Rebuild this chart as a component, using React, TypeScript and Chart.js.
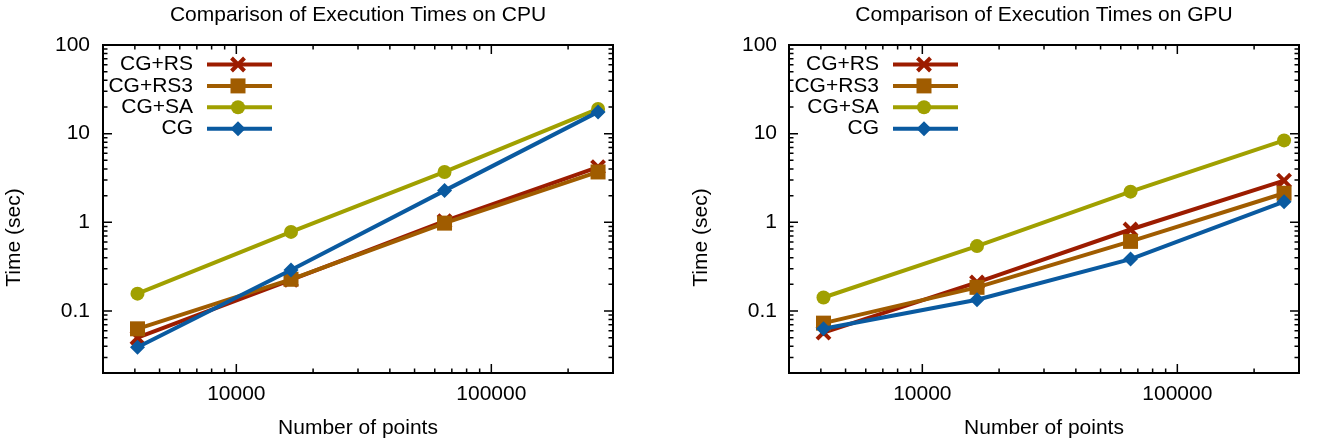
import React, { useEffect, useRef } from 'react';
import { Chart, registerables } from 'chart.js';

Chart.register(...registerables);

// ---- data ----
const xValues = [4096, 16384, 65536, 262144];
const seriesLabels = ['CG+RS', 'CG+RS3', 'CG+SA', 'CG'];

const cpuRS = [0.05, 0.225, 1.03, 4.2];
const cpuRS3 = [0.063, 0.228, 0.98, 3.7];
const cpuSA = [0.157, 0.78, 3.7, 19.0];
const cpuCG = [0.039, 0.29, 2.28, 17.6];

const gpuRS = [0.057, 0.21, 0.83, 2.95];
const gpuRS3 = [0.073, 0.185, 0.61, 2.13];
const gpuSA = [0.142, 0.54, 2.22, 8.4];
const gpuCG = [0.063, 0.134, 0.385, 1.71];

const xTickLabels = [10000, 100000];
const yTickLabels = [0.1, 1, 10, 100];
const xMinorTicks = [4000, 5000, 6000, 7000, 8000, 9000, 20000, 30000, 40000, 50000, 60000, 70000, 80000, 90000, 200000];
const yMinorTicks = [0.03, 0.04, 0.05, 0.06, 0.07, 0.08, 0.09, 0.2, 0.3, 0.4, 0.5, 0.6, 0.7, 0.8, 0.9, 2, 3, 4, 5, 6, 7, 8, 9, 20, 30, 40, 50, 60, 70, 80, 90];

const xMin = 3000;
const xMax = 300000;
const yMin = 0.02;
const yMax = 100;

// ---- styles ----
const FONT = "'Liberation Sans', Arial, Helvetica, sans-serif";
const FONT_SIZE = 21;
const colors = ['#9c1c00', '#a05c00', '#a0a000', '#0a5aa0'];
const pointStyles = ['crossRot', 'rect', 'circle', 'rectRot'];
const pointRadii = [9.2, 10.6, 7, 7.5];

type PanelCfg = {
  title: string;
  series: number[][];
  left: number;
  width: number;
  plotLeft: number;
  padRight: number;
  yTickPad: number;
  yTitleX: number;
};

function drawMarker(ctx: CanvasRenderingContext2D, style: string, x: number, y: number, color: string) {
  ctx.save();
  ctx.fillStyle = color;
  ctx.strokeStyle = color;
  ctx.beginPath();
  if (style === 'crossRot') {
    const d = 6.5;
    ctx.lineWidth = 4;
    ctx.moveTo(x - d, y - d);
    ctx.lineTo(x + d, y + d);
    ctx.moveTo(x + d, y - d);
    ctx.lineTo(x - d, y + d);
    ctx.stroke();
  } else if (style === 'rect') {
    ctx.rect(x - 7.5, y - 7.5, 15, 15);
    ctx.fill();
  } else if (style === 'circle') {
    ctx.arc(x, y, 7, 0, Math.PI * 2);
    ctx.fill();
  } else {
    const r = 7.5;
    ctx.moveTo(x, y - r);
    ctx.lineTo(x + r, y);
    ctx.lineTo(x, y + r);
    ctx.lineTo(x - r, y);
    ctx.closePath();
    ctx.fill();
  }
  ctx.restore();
}

function makeDecor(cfg: PanelCfg) {
  return {
    id: 'gnuplotDecor',
    afterDatasetsDraw(chart: any) {
      const ctx: CanvasRenderingContext2D = chart.ctx;
      const { left, right, top, bottom } = chart.chartArea;
      const xs = chart.scales.x;
      const ys = chart.scales.y;
      ctx.save();
      // tick marks (inside, mirrored)
      ctx.strokeStyle = '#000';
      ctx.lineWidth = 1.5;
      ctx.beginPath();
      const xt = (v: number, len: number) => {
        const p = xs.getPixelForValue(v);
        ctx.moveTo(p, bottom);
        ctx.lineTo(p, bottom - len);
        ctx.moveTo(p, top);
        ctx.lineTo(p, top + len);
      };
      const yt = (v: number, len: number) => {
        const p = ys.getPixelForValue(v);
        ctx.moveTo(left, p);
        ctx.lineTo(left + len, p);
        ctx.moveTo(right, p);
        ctx.lineTo(right - len, p);
      };
      xTickLabels.forEach((v) => xt(v, 9));
      xMinorTicks.forEach((v) => xt(v, 4.5));
      yTickLabels.forEach((v) => yt(v, 9));
      yMinorTicks.forEach((v) => yt(v, 4.5));
      ctx.stroke();
      // border
      ctx.lineWidth = 2;
      ctx.strokeRect(left, top, right - left, bottom - top);

      // titles
      ctx.fillStyle = '#000';
      ctx.font = `${FONT_SIZE}px ${FONT}`;
      ctx.textAlign = 'center';
      ctx.textBaseline = 'middle';
      const cx = (left + right) / 2;
      ctx.fillText(cfg.title, cx, 15);
      ctx.fillText('Number of points', cx, 428);
      ctx.save();
      ctx.translate(cfg.yTitleX, 237.5);
      ctx.rotate(-Math.PI / 2);
      ctx.fillText('Time (sec)', 0, 0);
      ctx.restore();

      // legend
      chart.data.datasets.forEach((ds: any, i: number) => {
        const y = 64.5 + i * 21.4;
        ctx.fillStyle = '#000';
        ctx.textAlign = 'right';
        ctx.fillText(ds.label, left + 90, y);
        ctx.strokeStyle = ds.borderColor;
        ctx.lineWidth = 4;
        ctx.beginPath();
        ctx.moveTo(left + 104, y);
        ctx.lineTo(left + 169, y);
        ctx.stroke();
        drawMarker(ctx, pointStyles[i], left + 135, y, ds.borderColor);
      });
      ctx.restore();
    },
  };
}

function Panel({ cfg }: { cfg: PanelCfg }) {
  const ref = useRef<HTMLCanvasElement>(null);
  useEffect(() => {
    const canvas = ref.current;
    if (!canvas) return;
    const datasets = cfg.series.map((vals, i) => ({
      label: seriesLabels[i],
      data: xValues.map((x, j) => ({ x, y: vals[j] })),
      borderColor: colors[i],
      backgroundColor: colors[i],
      borderWidth: 4,
      pointStyle: pointStyles[i],
      pointRadius: pointRadii[i],
      pointBorderWidth: pointStyles[i] === 'crossRot' ? 4 : 0,
      pointBackgroundColor: colors[i],
      pointBorderColor: colors[i],
      tension: 0,
      order: 3 - i,
    }));
    const chart = new Chart(canvas, {
      type: 'line',
      data: { datasets },
      plugins: [makeDecor(cfg)],
      options: {
        responsive: false,
        animation: false,
        devicePixelRatio: 1,
        layout: { padding: { left: 0, top: 45, right: cfg.padRight, bottom: 0 } },
        plugins: { legend: { display: false }, tooltip: { enabled: false }, title: { display: false } },
        scales: {
          x: {
            type: 'logarithmic',
            min: xMin,
            max: xMax,
            grid: { display: false, drawTicks: false },
            border: { display: false },
            afterBuildTicks: (scale: any) => {
              scale.ticks = xTickLabels.map((v) => ({ value: v }));
            },
            afterFit: (scale: any) => {
              scale.height = 444 - 373;
            },
            ticks: {
              autoSkip: false,
              maxRotation: 0,
              padding: 9,
              color: '#000',
              font: { family: FONT, size: FONT_SIZE },
              callback: (v: any) => String(v),
            },
          },
          y: {
            type: 'logarithmic',
            min: yMin,
            max: yMax,
            grid: { display: false, drawTicks: false },
            border: { display: false },
            afterBuildTicks: (scale: any) => {
              scale.ticks = yTickLabels.map((v) => ({ value: v }));
            },
            afterFit: (scale: any) => {
              scale.width = cfg.plotLeft;
            },
            ticks: {
              autoSkip: false,
              padding: cfg.yTickPad,
              color: '#000',
              font: { family: FONT, size: FONT_SIZE },
              callback: (v: any) => String(v),
            },
          },
        },
      } as any,
    });
    return () => chart.destroy();
  }, [cfg]);
  return (
    <canvas
      ref={ref}
      width={cfg.width}
      height={444}
      style={{ position: 'absolute', left: cfg.left, top: 0, width: cfg.width, height: 444 }}
    />
  );
}

const cpuCfg: PanelCfg = {
  title: 'Comparison of Execution Times on CPU',
  series: [cpuRS, cpuRS3, cpuSA, cpuCG],
  left: 0,
  width: 658,
  plotLeft: 103,
  padRight: 45,
  yTickPad: 13,
  yTitleX: 14.5,
};

const gpuCfg: PanelCfg = {
  title: 'Comparison of Execution Times on GPU',
  series: [gpuRS, gpuRS3, gpuSA, gpuCG],
  left: 658,
  width: 659,
  plotLeft: 131,
  padRight: 18,
  yTickPad: 12,
  yTitleX: 42.8,
};

export default function App() {
  useEffect(() => {
    document.body.style.margin = '0';
  }, []);
  return (
    <div style={{ position: 'absolute', left: 0, top: 0, width: 1317, height: 444, background: '#fff', overflow: 'hidden' }}>
      <Panel cfg={cpuCfg} />
      <Panel cfg={gpuCfg} />
    </div>
  );
}
